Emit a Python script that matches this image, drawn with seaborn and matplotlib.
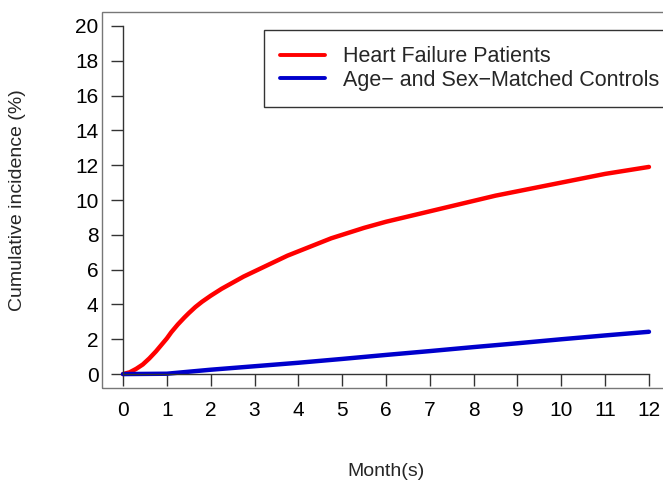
import seaborn as sns
import matplotlib.pyplot as plt
import pandas as pd
from matplotlib.patches import Rectangle

# values
months_hf = [0, 0.15, 0.3, 0.45, 0.6, 0.75, 0.9, 1.0, 1.1, 1.25, 1.4, 1.5, 1.65, 1.8, 2,
             2.25, 2.5, 2.75, 3, 3.25, 3.5, 3.75, 4, 4.25, 4.5, 4.75, 5, 5.5, 6, 6.5,
             7, 7.5, 8, 8.5, 9, 9.5, 10, 10.5, 11, 11.5, 12]
inc_hf = [0, 0.1, 0.3, 0.55, 0.9, 1.3, 1.75, 2.05, 2.4, 2.85, 3.25, 3.5, 3.85, 4.15, 4.5,
          4.9, 5.25, 5.6, 5.9, 6.2, 6.5, 6.8, 7.05, 7.3, 7.55, 7.8, 8.0, 8.4, 8.75, 9.05,
          9.35, 9.65, 9.95, 10.25, 10.5, 10.75, 11.0, 11.25, 11.5, 11.7, 11.9]
months_ctrl = [0, 1, 2, 3, 4, 5, 6, 7, 8, 9, 10, 11, 12]
inc_ctrl = [0, 0.02, 0.25, 0.45, 0.65, 0.87, 1.1, 1.32, 1.55, 1.77, 2.0, 2.22, 2.43]
groups = ["Heart Failure Patients", "Age\u2212 and Sex\u2212Matched Controls"]
xticks = list(range(0, 13))
yticks = list(range(0, 21, 2))

sns.set_theme(style="white")
plt.rcParams['font.family'] = ['Liberation Sans', 'DejaVu Sans']

df = pd.concat([
    pd.DataFrame({'month': months_hf, 'inc': inc_hf, 'group': groups[0]}),
    pd.DataFrame({'month': months_ctrl, 'inc': inc_ctrl, 'group': groups[1]}),
])

fig = plt.figure(figsize=(6.63, 4.82), dpi=100)
ax = fig.add_axes([102/663, 1-388/482, 568/663, 376/482])
sns.lineplot(data=df, x='month', y='inc', hue='group', hue_order=groups,
             palette={groups[0]: '#ff0000', groups[1]: '#0000cc'},
             linewidth=3.2, estimator=None, ax=ax, legend=True,
             solid_joinstyle='round', solid_capstyle='round')

ax.set_xlim(-0.48, 12.48)
ax.set_ylim(-0.8, 20.8)
ax.set_xticks(xticks)
ax.set_yticks(yticks)
ax.set_xlabel('')
ax.set_ylabel('')

for s in ['top', 'right']:
    ax.spines[s].set_visible(False)
ax.spines['left'].set_position(('data', 0))
ax.spines['left'].set_bounds(0, 20)
ax.spines['bottom'].set_position(('data', 0))
ax.spines['bottom'].set_bounds(0, 12)
for s in ['left', 'bottom']:
    ax.spines[s].set_color('#333333')
    ax.spines[s].set_linewidth(1)
ax.tick_params(axis='both', direction='out', length=8.6, width=1,
               color='#333333', labelsize=15, labelcolor='black')
ax.tick_params(axis='y', pad=9)
ax.tick_params(axis='x', pad=11)
ax.tick_params(left=True, bottom=True)

ax.add_patch(Rectangle((0, 0), 1, 1, transform=ax.transAxes, fill=False,
                       edgecolor='#777777', linewidth=1, clip_on=False))

handles, labels = ax.get_legend_handles_labels()
for h in handles:
    h.set_linewidth(2.8)
leg = ax.legend(handles, labels, loc='upper left',
                bbox_to_anchor=(264/663, 1-30/482), bbox_transform=fig.transFigure,
                fontsize=15.5, frameon=True, fancybox=False, borderpad=0.75,
                handlelength=2.07, handletextpad=0.85, labelspacing=0.12,
                borderaxespad=0)
leg.get_frame().set_edgecolor('#333333')
leg.get_frame().set_linewidth(1)
leg.get_frame().set_alpha(1)

fig.text(386/663, 1-471/482, 'Month(s)', ha='center', va='center', fontsize=14)
fig.text(18/663, 1-200/482, 'Cumulative incidence (%)', ha='center', va='center',
         rotation=90, fontsize=14)

fig.savefig('out.png', dpi=100)
